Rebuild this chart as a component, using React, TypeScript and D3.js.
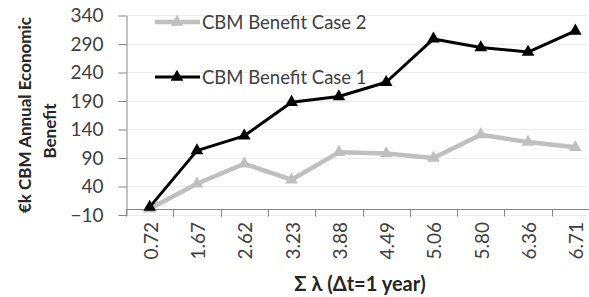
import React, { useEffect, useRef } from "react";
import * as d3 from "d3";

// Σλ categories (Δt = 1 year)
const categories = ["0.72", "1.67", "2.62", "3.23", "3.88", "4.49", "5.06", "5.80", "6.36", "6.71"];
const case1 = [3, 102, 128, 187, 197, 222, 298, 283, 275, 312];
const case2 = [0, 44, 79, 51, 99, 97, 89, 130, 117, 108];
const yTicks = [-10, 40, 90, 140, 190, 240, 290, 340];

const FONT = "Lato, 'Open Sans', sans-serif";

export default function App() {
  const ref = useRef<SVGSVGElement>(null);

  useEffect(() => {
    const svg = d3.select(ref.current);
    svg.selectAll("*").remove();

    const left = 126;
    const right = 599;
    const x = d3.scaleBand().domain(categories).range([left, right]).padding(0);
    const y = d3.scaleLinear().domain([-10, 340]).range([214.5, 15]);

    // gridlines
    svg
      .append("g")
      .selectAll("line")
      .data(yTicks)
      .enter()
      .append("line")
      .attr("x1", left)
      .attr("x2", 587)
      .attr("y1", (d) => Math.round(y(d)) + 0.5)
      .attr("y2", (d) => Math.round(y(d)) + 0.5)
      .attr("stroke", "#ececec")
      .attr("stroke-width", 1);

    // y axis
    const yAxis = svg
      .append("g")
      .attr("transform", `translate(${left + 0.5},0.5)`)
      .call(d3.axisLeft(y).tickValues(yTicks).tickSize(8).tickSizeOuter(0).tickPadding(15));
    yAxis.select(".domain").attr("stroke", "#878787");
    yAxis.selectAll(".tick line").attr("stroke", "#878787");
    yAxis
      .selectAll(".tick text")
      .attr("font-family", FONT)
      .attr("font-size", 19)
      .attr("fill", "#404040");

    // x axis crossing at zero
    const y0 = Math.round(y(0)) + 0.5;
    const xAxis = svg.append("g").attr("transform", `translate(0,${y0})`);
    xAxis
      .append("line")
      .attr("x1", left)
      .attr("x2", right)
      .attr("stroke", "#878787");
    xAxis
      .selectAll(".tk")
      .data(categories)
      .enter()
      .append("line")
      .attr("x1", (d) => Math.round(x(d)!) + 0.5)
      .attr("x2", (d) => Math.round(x(d)!) + 0.5)
      .attr("y1", 0)
      .attr("y2", 7)
      .attr("stroke", "#878787");
    svg
      .append("g")
      .selectAll("text")
      .data(categories)
      .enter()
      .append("text")
      .attr("transform", (d) => `translate(${x(d)! + x.bandwidth() / 2 + 8},222) rotate(-90)`)
      .attr("text-anchor", "end")
      .attr("font-family", FONT)
      .attr("font-size", 19)
      .attr("fill", "#404040")
      .text((d) => d);

    const cx = (d: string) => x(d)! + x.bandwidth() / 2;
    const line = d3
      .line<number>()
      .x((_, i) => cx(categories[i]))
      .y((d) => y(d));
    const tri = d3.symbol().type(d3.symbolTriangle).size(70);

    const series = [
      { values: case2, color: "#bfbfbf", width: 4.5 },
      { values: case1, color: "#000000", width: 3 },
    ];
    series.forEach((s) => {
      svg
        .append("path")
        .attr("d", line(s.values))
        .attr("fill", "none")
        .attr("stroke", s.color)
        .attr("stroke-width", s.width)
        .attr("stroke-linejoin", "round");
      svg
        .append("g")
        .selectAll("path")
        .data(s.values)
        .enter()
        .append("path")
        .attr("d", tri)
        .attr("transform", (d, i) => `translate(${cx(categories[i])},${y(d)})`)
        .attr("fill", s.color);
    });

    // legend
    const legend = [
      { label: "CBM Benefit Case 2", color: "#bfbfbf", width: 4.5, yy: 22 },
      { label: "CBM Benefit Case 1", color: "#000000", width: 3, yy: 77 },
    ];
    legend.forEach((l) => {
      const g = svg.append("g");
      g.append("line")
        .attr("x1", 155)
        .attr("x2", 200)
        .attr("y1", l.yy)
        .attr("y2", l.yy)
        .attr("stroke", l.color)
        .attr("stroke-width", l.width);
      g.append("path")
        .attr("d", tri)
        .attr("transform", `translate(177,${l.yy})`)
        .attr("fill", l.color);
      g.append("text")
        .attr("x", 202)
        .attr("y", l.yy + 6.5)
        .attr("font-family", FONT)
        .attr("font-size", 18.5)
        .attr("fill", "#404040")
        .text(l.label);
    });

    // axis titles
    const yt = svg
      .append("g")
      .attr("font-family", FONT)
      .attr("font-size", 17)
      .attr("font-weight", "bold")
      .attr("fill", "#262626")
      .attr("text-anchor", "middle");
    yt.append("text")
      .attr("transform", "translate(31,115) rotate(-90)")
      .text("€k CBM Annual Economic");
    yt.append("text")
      .attr("transform", "translate(56,131) rotate(-90)")
      .text("Benefit");

    svg
      .append("text")
      .attr("x", 360)
      .attr("y", 291)
      .attr("text-anchor", "middle")
      .attr("font-family", FONT)
      .attr("font-size", 20)
      .attr("font-weight", "bold")
      .attr("fill", "#262626")
      .text("Σ λ (Δt=1 year)");
  }, []);

  return (
    <svg
      ref={ref}
      width={589}
      height={297}
      style={{ position: "absolute", left: 0, top: 0, background: "#fff" }}
    />
  );
}
